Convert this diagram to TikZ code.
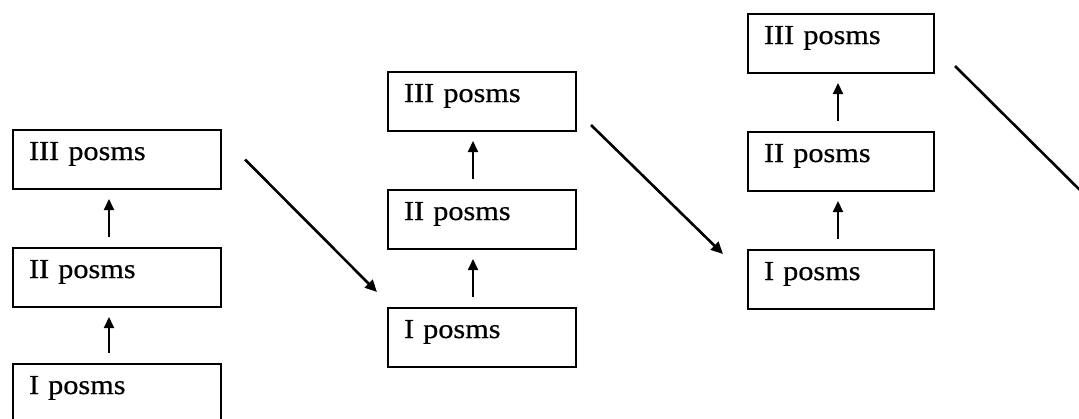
\documentclass[tikz,border=0pt]{standalone}
\usepackage{fontspec}
\usetikzlibrary{arrows.meta}
\newfontfamily\boxfont[FakeStretch=1.1,FakeBold=0.6]{Liberation Serif}
\tikzset{
  posbox/.style={draw, line width=2pt, rectangle, anchor=north west,
    inner xsep=16pt, inner ysep=0pt, text height=30pt, text depth=29pt,
    align=left, font=\boxfont\fontsize{27.5pt}{30pt}\selectfont},
  uparrow/.style={line width=2pt, -{Triangle[length=11pt,width=10pt]},
    shorten <=10pt, shorten >=9pt},
  diagarrow/.style={line width=2.6pt, -{Triangle[length=12pt,width=11pt]}},
  diagline/.style={line width=2.6pt}
}
\begin{document}
\begin{tikzpicture}[x=1pt,y=-1pt]
\useasboundingbox (0,0) rectangle (1079,418);
\clip (0,0) rectangle (1079,418);

% first column
\node[posbox, text width=176pt] (a3) at (12,129) {III posms};
\node[posbox, text width=176pt] (a2) at (12,247) {II posms};
\node[posbox, text width=176pt] (a1) at (12,363) {I posms};

% second column
\node[posbox, text width=156pt] (b3) at (387,71) {III posms};
\node[posbox, text width=156pt] (b2) at (387,189) {II posms};
\node[posbox, text width=156pt] (b1) at (387,307) {I posms};

% third column
\node[posbox, text width=154pt] (c3) at (747,13) {III posms};
\node[posbox, text width=154pt] (c2) at (747,131) {II posms};
\node[posbox, text width=154pt] (c1) at (747,249) {I posms};

% upward steps inside each column
\draw[uparrow] ([xshift=-8pt]a1.north) -- ([xshift=-8pt]a2.south);
\draw[uparrow] ([xshift=-8pt]a2.north) -- ([xshift=-8pt]a3.south);
\draw[uparrow] ([xshift=-9pt]b1.north) -- ([xshift=-9pt]b2.south);
\draw[uparrow] ([xshift=-9pt]b2.north) -- ([xshift=-9pt]b3.south);
\draw[uparrow] ([xshift=-3pt]c1.north) -- ([xshift=-3pt]c2.south);
\draw[uparrow] ([xshift=-3pt]c2.north) -- ([xshift=-3pt]c3.south);

% diagonal transitions between columns (offsets in picture units, y downward)
\coordinate (d1s) at ([shift={(23,0)}]a3.east);
\coordinate (d1e) at ([shift={(-10,-15)}]b1.north west);
\coordinate (d2s) at ([shift={(14,-7)}]b3.south east);
\coordinate (d2e) at ([shift={(-24,5)}]c1.north west);
\coordinate (d3s) at ([shift={(20,-8)}]c3.south east);
\coordinate (d3e) at ([shift={(165,136)}]c3.south east);
\draw[diagarrow] (d1s) -- (d1e);
\draw[diagarrow] (d2s) -- (d2e);
\draw[diagline] (d3s) -- (d3e);
\end{tikzpicture}
\end{document}
